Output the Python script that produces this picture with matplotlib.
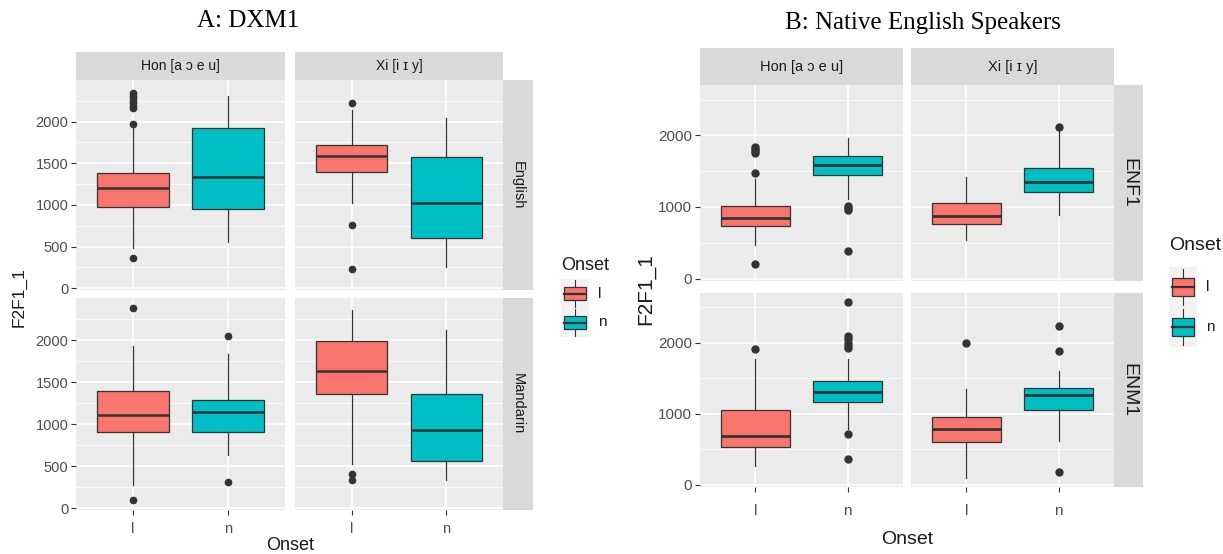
import matplotlib
matplotlib.use("Agg")
import matplotlib.pyplot as plt
from matplotlib.patches import Rectangle
from matplotlib.lines import Line2D
from matplotlib.font_manager import fontManager

# ---------------- data ----------------
onsets = ['l', 'n']
vowel_groups = ['Hon [a ɔ e u]', 'Xi [i ɪ y]']
fill_colors = ['#F8766D', '#00BFC4']

# Chart A: DXM1 (rows: English, Mandarin) ; index [row][vowel][onset]
a_rows = ['English', 'Mandarin']
a_whislo = [[[477, 558], [1018, 250]], [[270, 627], [523, 338]]]
a_q1 = [[[978, 945], [1394, 598]], [[909, 909], [1356, 567]]]
a_med = [[[1208, 1333], [1584, 1018]], [[1110, 1142], [1637, 933]]]
a_q3 = [[[1382, 1919], [1725, 1576]], [[1388, 1287], [1983, 1356]]]
a_whishi = [[[1920, 2311], [2141, 2040]], [[1923, 1838], [2361, 2120]]]
a_fliers = [[[[364, 1975, 2160, 2190, 2220, 2250, 2280, 2310, 2340], []],
             [[230, 756, 2222], []]],
            [[[93, 2385], [314, 2043]],
             [[330, 410], []]]]

# Chart B: Native English Speakers (rows: ENF1, ENM1)
b_rows = ['ENF1', 'ENM1']
b_whislo = [[[471, 1106], [541, 894]], [[255, 788], [90, 608]]]
b_q1 = [[[739, 1449], [758, 1209]], [[524, 1165], [599, 1047]]]
b_med = [[[852, 1581], [875, 1351]], [[684, 1307], [778, 1259]]]
b_q3 = [[[1007, 1713], [1049, 1548]], [[1057, 1458], [958, 1368]]]
b_whishi = [[[1388, 1962], [1412, 2060]], [[1778, 1769], [1354, 1608]]]
b_fliers = [[[[198, 1473, 1750, 1780, 1810, 1840], [381, 960, 990, 1010]],
             [[], [2118]]],
            [[[1910], [358, 717, 1930, 1960, 2000, 2050, 2100, 2580]],
             [[2005], [175, 1882, 2245]]]]

a_yticks = [0, 500, 1000, 1500, 2000]
b_yticks = [0, 1000, 2000]

# ---------------- style ----------------
installed = {f.name for f in fontManager.ttflist}
FA = ['Liberation Sans', 'DejaVu Sans']
FB = (['Liberation Sans Narrow'] if 'Liberation Sans Narrow' in installed else []) + FA
FT = ['Liberation Serif', 'DejaVu Serif']

PANEL = '#EBEBEB'
STRIP = '#D9D9D9'
TICKC = '#4D4D4D'
DARK = '#333333'

W, H = 1223, 554
fig = plt.figure(figsize=(W / 100, H / 100), dpi=100)


def px_axes(x0, y0, x1, y1, **kw):
    return fig.add_axes([x0 / W, 1 - y1 / H, (x1 - x0) / W, (y1 - y0) / H], **kw)


def data_range(whislo, whishi, fliers):
    vals = []
    for r in range(2):
        for c in range(2):
            for k in range(2):
                vals += [whislo[r][c][k], whishi[r][c][k]] + list(fliers[r][c][k])
    lo, hi = min(vals), max(vals)
    pad = 0.05 * (hi - lo)
    return lo - pad, hi + pad


def draw_chart(cols_x, rows_y, top_strip_y, right_strip_x, rows, whislo, q1, med, q3,
               whishi, fliers, yticks, fam, tick_fs, xpad, strip_fs, rstrip_fs,
               box_lw, med_lw, flier_ms):
    ylo, yhi = data_range(whislo, whishi, fliers)
    minor = [(yticks[i] + yticks[i + 1]) / 2 for i in range(len(yticks) - 1)]
    minor.append(yticks[-1] + (yticks[1] - yticks[0]) / 2)
    for r, (y0, y1) in enumerate(rows_y):
        for c, (x0, x1) in enumerate(cols_x):
            ax = px_axes(x0, y0, x1, y1)
            ax.set_facecolor(PANEL)
            for s in ax.spines.values():
                s.set_visible(False)
            stats = []
            for k in range(2):
                stats.append(dict(whislo=whislo[r][c][k], q1=q1[r][c][k], med=med[r][c][k],
                                  q3=q3[r][c][k], whishi=whishi[r][c][k],
                                  fliers=fliers[r][c][k]))
            bp = ax.bxp(stats, positions=[1, 2], widths=0.75, patch_artist=True,
                        showcaps=False, zorder=3,
                        boxprops=dict(edgecolor=DARK, linewidth=box_lw),
                        whiskerprops=dict(color=DARK, linewidth=box_lw),
                        medianprops=dict(color=DARK, linewidth=med_lw),
                        flierprops=dict(marker='o', markerfacecolor=DARK,
                                        markeredgecolor=DARK, markersize=flier_ms))
            for patch, col in zip(bp['boxes'], fill_colors):
                patch.set_facecolor(col)
            ax.set_xlim(0.4, 2.6)
            ax.set_ylim(ylo, yhi)
            ax.set_yticks(yticks)
            ax.set_yticks([m for m in minor if ylo < m < yhi], minor=True)
            ax.set_xticks([1, 2])
            ax.grid(True, which='major', color='white', linewidth=1.1, zorder=0)
            ax.grid(True, which='minor', axis='y', color='white', linewidth=0.55, zorder=0)
            ax.set_axisbelow(True)
            ax.tick_params(which='minor', length=0)
            ax.tick_params(which='major', length=3.5, width=0.8, color=DARK,
                           labelcolor=TICKC, labelsize=tick_fs, pad=2)
            ax.tick_params(axis='x', pad=xpad)
            if c == 0:
                ax.set_yticklabels([str(t) for t in yticks], family=fam)
            else:
                ax.tick_params(axis='y', length=0, labelleft=False)
            if r == len(rows_y) - 1:
                ax.set_xticklabels(onsets, family=fam)
            else:
                ax.tick_params(axis='x', length=0, labelbottom=False)
            # top strips
            if r == 0:
                sa = px_axes(x0, top_strip_y[0], x1, top_strip_y[1])
                sa.set_facecolor(STRIP)
                sa.set_xticks([]); sa.set_yticks([])
                for s in sa.spines.values():
                    s.set_visible(False)
                sa.text(0.5, 0.5, vowel_groups[c], ha='center', va='center',
                        fontsize=strip_fs, color='#1A1A1A', family=fam,
                        transform=sa.transAxes)
        sr = px_axes(right_strip_x[0], y0, right_strip_x[1], y1)
        sr.set_facecolor(STRIP)
        sr.set_xticks([]); sr.set_yticks([])
        for s in sr.spines.values():
            s.set_visible(False)
        sr.text(0.5, 0.5, rows[r], ha='center', va='center', rotation=-90,
                fontsize=rstrip_fs, color='#1A1A1A', family=fam, transform=sr.transAxes)


def legend(x0, x1, key_tops, key_h, title_y, fam, title_fs, lab_fs):
    fig.text(x0 / W, 1 - title_y / H, 'Onset', ha='left', va='center',
             fontsize=title_fs, family=fam, color='#1A1A1A')
    for k, top in enumerate(key_tops):
        ka = px_axes(x0, top, x1, top + key_h)
        ka.set_facecolor('#F2F2F2')
        ka.set_xticks([]); ka.set_yticks([])
        for s in ka.spines.values():
            s.set_visible(False)
        ka.set_xlim(0, 1); ka.set_ylim(0, 1)
        ka.add_line(Line2D([0.5, 0.5], [0.05, 0.95], color=DARK, lw=0.8))
        ka.add_patch(Rectangle((0.12, 0.27), 0.76, 0.46, facecolor=fill_colors[k],
                               edgecolor=DARK, lw=0.9, zorder=3))
        ka.add_line(Line2D([0.12, 0.88], [0.5, 0.5], color=DARK, lw=1.6, zorder=4))
        fig.text((x1 + 9) / W, 1 - (top + key_h / 2) / H, onsets[k], ha='left',
                 va='center', fontsize=lab_fs, family=fam, color='#1A1A1A')


# ---------------- Chart A ----------------
draw_chart(cols_x=[(76, 285), (295, 503)], rows_y=[(80, 290), (298, 510)],
           top_strip_y=(52, 80), right_strip_x=(503, 533), rows=a_rows,
           whislo=a_whislo, q1=a_q1, med=a_med, q3=a_q3, whishi=a_whishi, fliers=a_fliers,
           yticks=a_yticks, fam=FA, tick_fs=10.5, xpad=5, strip_fs=10, rstrip_fs=10.5,
           box_lw=0.9, med_lw=1.8, flier_ms=4.5)
fig.text(248 / W, 1 - 21 / H, 'A: DXM1', ha='center', va='center', fontsize=18,
         family=FT, color='black')
fig.text(19 / W, 1 - 297 / H, 'F2F1_1', ha='center', va='center', rotation=90,
         fontsize=12.5, family=FA, color='#1A1A1A')
fig.text(290 / W, 1 - 545 / H, 'Onset', ha='center', va='center',
         fontsize=13, family=FA, color='#1A1A1A')
legend(561, 589, [279, 308], 29, 265, FA, 13, 11)

# ---------------- Chart B ----------------
draw_chart(cols_x=[(700, 903), (911, 1114)], rows_y=[(85, 281), (293, 487)],
           top_strip_y=(48, 85), right_strip_x=(1114, 1143), rows=b_rows,
           whislo=b_whislo, q1=b_q1, med=b_med, q3=b_q3, whishi=b_whishi, fliers=b_fliers,
           yticks=b_yticks, fam=FB, tick_fs=11, xpad=9, strip_fs=10.5, rstrip_fs=14,
           box_lw=0.9, med_lw=2.0, flier_ms=5)
fig.text(923 / W, 1 - 23 / H, 'B: Native English Speakers', ha='center', va='center',
         fontsize=18, family=FT, color='black')
fig.text(646 / W, 1 - 289 / H, 'F2F1_1', ha='center', va='center', rotation=90,
         fontsize=15, family=FB, color='#1A1A1A')
fig.text(907 / W, 1 - 539 / H, 'Onset', ha='center', va='center',
         fontsize=14, family=FB, color='#1A1A1A')
legend(1169, 1197, [267, 307], 40, 245, FB, 14, 11)

fig.savefig('out.png', dpi=100)
